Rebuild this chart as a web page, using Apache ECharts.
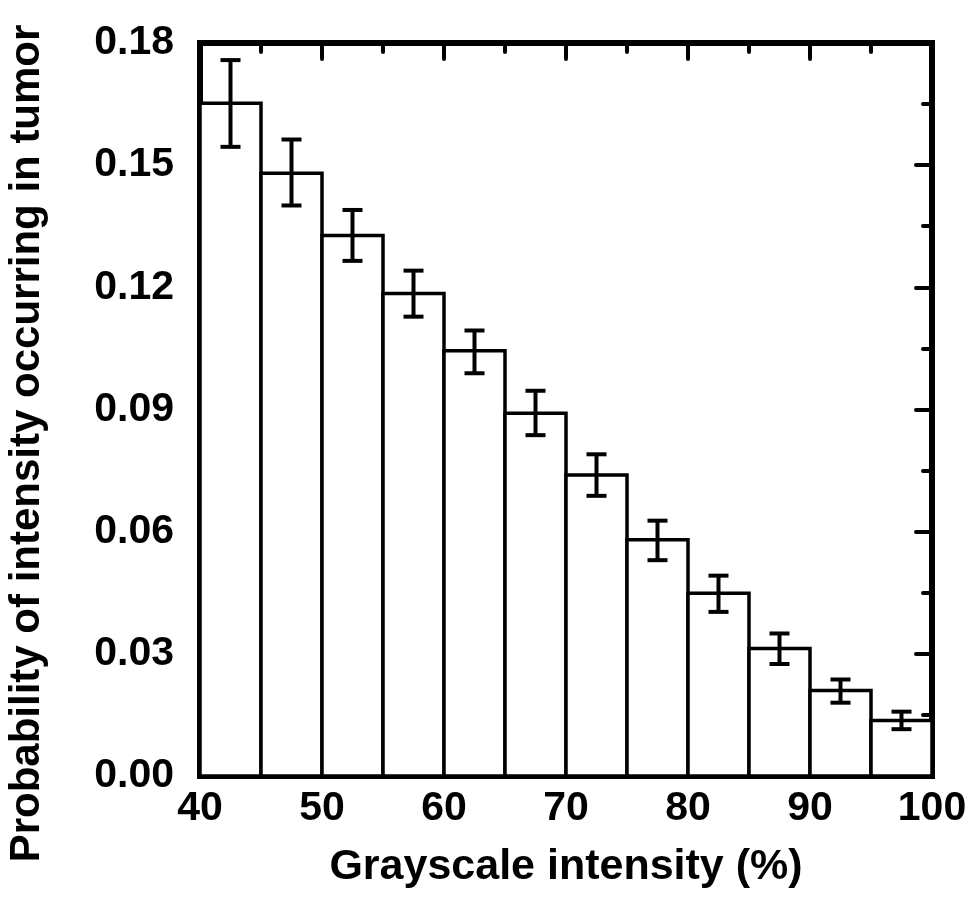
<!DOCTYPE html>
<html>
<head>
<meta charset="utf-8">
<title>Grayscale intensity histogram</title>
<script src="https://cdn.jsdelivr.net/npm/echarts@6/dist/echarts.min.js"></script>
<style>
	html,body{margin:0;padding:0;background:#fff;}
	#chart{width:971px;height:901px;}
</style>
</head>
<body>
<div id="chart"></div>
<script>
	// 直方图数据（灰度区间，概率，误差上下限）
	const binStart = [40, 45, 50, 55, 60, 65, 70, 75, 80, 85, 90, 95];
	const binEnd = [45, 50, 55, 60, 65, 70, 75, 80, 85, 90, 95, 100];
	const prob = [0.1652, 0.1480, 0.1327, 0.1185, 0.1044, 0.0891, 0.0739, 0.0580, 0.0449, 0.0313, 0.0210, 0.0136];
	const errUpper = [0.1758, 0.1563, 0.1390, 0.1241, 0.1094, 0.0946, 0.0790, 0.0627, 0.0492, 0.0350, 0.0237, 0.0158];
	const errLower = [0.1545, 0.1401, 0.1265, 0.1128, 0.0989, 0.0837, 0.0688, 0.0530, 0.0403, 0.0275, 0.0180, 0.0115];
	const xTicks = [40, 50, 60, 70, 80, 90, 100];
	const yTicks = [0.00, 0.03, 0.06, 0.09, 0.12, 0.15, 0.18];

	const fontFamily = "'Liberation Sans', Arial, Helvetica, sans-serif";
	const black = '#000';

	const barData = binStart.map((s, i) => [s, binEnd[i], prob[i]]);
	const errData = binStart.map((s, i) => [(s + binEnd[i]) / 2, errLower[i], errUpper[i]]);

	const chart = echarts.init(document.getElementById('chart'), null, {renderer: 'canvas'});

	const frameLine = {show: true, onZero: false, lineStyle: {color: black, width: 6, cap: 'square'}};
	const innerTick = {show: true, inside: true, length: 16, lineStyle: {color: black, width: 4, cap: 'round'}};
	const innerMinor = {show: true, splitNumber: 2, length: 9, lineStyle: {color: black, width: 4, cap: 'round'}};

	const option = {
		backgroundColor: '#fff',
		animation: false,
		grid: {
			left: 200,
			right: 39,
			top: 43,
			bottom: 125,
			outerBoundsMode: 'none'
		},
		xAxis: [{
			type: 'value',
			position: 'bottom',
			min: xTicks[0],
			max: xTicks[xTicks.length - 1],
			interval: 10,
			name: 'Grayscale intensity (%)',
			nameLocation: 'middle',
			nameGap: 70,
			nameTextStyle: {fontFamily: fontFamily, fontWeight: 'bold', fontSize: 43, color: black},
			axisLine: frameLine,
			axisTick: {show: false},
			splitLine: {show: false},
			axisLabel: {margin: 12, fontFamily: fontFamily, fontWeight: 'bold', fontSize: 41, color: black}
		}, {
			type: 'value',
			position: 'top',
			min: xTicks[0],
			max: xTicks[xTicks.length - 1],
			interval: 10,
			axisLine: frameLine,
			axisTick: innerTick,
			minorTick: innerMinor,
			axisLabel: {show: false},
			splitLine: {show: false}
		}],
		yAxis: [{
			type: 'value',
			position: 'left',
			min: yTicks[0],
			max: yTicks[yTicks.length - 1],
			interval: 0.03,
			name: 'Probability of intensity occurring in tumor',
			nameLocation: 'middle',
			nameGap: 152,
			nameTextStyle: {fontFamily: fontFamily, fontWeight: 'bold', fontSize: 42, color: black, padding: [0, 68, 0, 0]},
			axisLine: frameLine,
			axisTick: {show: false},
			splitLine: {show: false},
			axisLabel: {
				margin: 26,
				fontFamily: fontFamily, fontWeight: 'bold', fontSize: 41, color: black,
				formatter: v => v.toFixed(2)
			}
		}, {
			type: 'value',
			position: 'right',
			min: yTicks[0],
			max: yTicks[yTicks.length - 1],
			interval: 0.03,
			axisLine: frameLine,
			axisTick: innerTick,
			minorTick: innerMinor,
			axisLabel: {show: false},
			splitLine: {show: false}
		}],
		series: [{
			// 直方柱
			type: 'custom',
			xAxisIndex: 0,
			yAxisIndex: 0,
			data: barData,
			z: 2,
			renderItem: function(params, api) {
				const p0 = api.coord([api.value(0), 0]);
				const p1 = api.coord([api.value(1), api.value(2)]);
				return {
					type: 'rect',
					shape: {x: p0[0], y: p1[1], width: p1[0] - p0[0], height: p0[1] - p1[1]},
					style: {fill: '#fff', stroke: black, lineWidth: 3.5}
				};
			}
		}, {
			// 误差线
			type: 'custom',
			xAxisIndex: 0,
			yAxisIndex: 0,
			data: errData,
			z: 3,
			renderItem: function(params, api) {
				const lo = api.coord([api.value(0), api.value(1)]);
				const hi = api.coord([api.value(0), api.value(2)]);
				const half = 10;
				const st = {stroke: black, lineWidth: 4};
				return {
					type: 'group',
					children: [
						{type: 'line', shape: {x1: lo[0], y1: lo[1], x2: hi[0], y2: hi[1]}, style: st},
						{type: 'line', shape: {x1: hi[0] - half, y1: hi[1], x2: hi[0] + half, y2: hi[1]}, style: st},
						{type: 'line', shape: {x1: lo[0] - half, y1: lo[1], x2: lo[0] + half, y2: lo[1]}, style: st}
					]
				};
			}
		}]
	};

	chart.setOption(option);
</script>
</body>
</html>
